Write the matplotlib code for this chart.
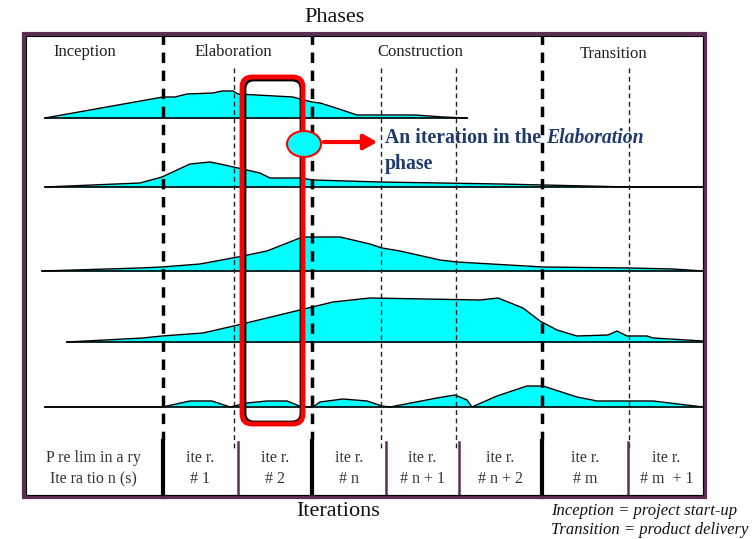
import matplotlib.pyplot as plt
from matplotlib.patches import FancyBboxPatch, Ellipse, Rectangle
import numpy as np

plt.rcParams['font.family'] = ['Liberation Serif', 'DejaVu Serif']

cyan = '#00FFFF'
red = '#FF0000'
frame_purple = '#5E2F55'
note_blue = '#1F3B6E'

# hump profiles, x in pixels across the frame, y = height above each row baseline
hump1_x = [45, 163, 175, 187, 213, 222, 233, 238, 293, 300, 312, 320, 333, 357, 415, 443, 467]
hump1_y = [0, 21, 21, 24, 25, 27, 27, 24, 21, 19, 16, 15, 11, 3, 3, 1, 0]
hump2_x = [45, 140, 162, 190, 210, 220, 238, 260, 270, 300, 313, 380, 500, 630, 705]
hump2_y = [0, 4, 10, 23, 25, 23, 19, 14, 9, 9, 7, 5, 3, 0, 0]
hump3_x = [42, 140, 162, 200, 238, 267, 300, 307, 340, 370, 382, 400, 440, 457, 543, 630, 673, 703]
hump3_y = [0, 3, 4, 7, 14, 20, 33, 34, 34, 27, 23, 20, 11, 9, 4, 3, 2, 0]
hump4_x = [67, 143, 162, 203, 238, 300, 333, 370, 480, 498, 523, 540, 557, 577, 608, 617, 627, 647, 653, 703]
hump4_y = [0, 4, 6, 9, 17, 32, 40, 44, 42, 44, 34, 21, 12, 6, 7, 11, 6, 6, 4, 1]
hump5_x = [45, 162, 167, 190, 212, 230, 247, 267, 287, 302, 313, 320, 343, 367, 382, 390, 437, 455, 467, 472, 497, 527, 543, 577, 597, 653, 703]
hump5_y = [0, 0, 1, 6, 6, 0, 4, 6, 6, 0, 0, 5, 8, 6, 1, 0, 9, 12, 7, 0, 11, 21, 21, 10, 6, 6, 0]
humps = [(hump1_x, hump1_y), (hump2_x, hump2_y), (hump3_x, hump3_y), (hump4_x, hump4_y), (hump5_x, hump5_y)]
baselines = [118, 187, 271, 342, 407]
baseline_ends = [467, 705, 703, 703, 703]

phases = ['Inception', 'Elaboration', 'Construction', 'Transition']
phase_label_x = [85, 233, 420, 614]
phase_label_y = [52, 52, 52, 54]
phase_bounds = [163, 312, 542]
iter_bounds = [234, 381, 456, 629]

iter_top = ['P re lim in a ry', 'ite r.', 'ite r.', 'ite r.', 'ite r.', 'ite r.', 'ite r.', 'ite r.']
iter_bottom = ['Ite ra tio n (s)', '# 1', '# 2', '# n', '# n + 1', '# n + 2', '# m', '# m  + 1']
iter_cells = [24, 163, 238, 312, 386, 459, 542, 628, 705]
iter_major = [163, 312, 542]

fig = plt.figure(figsize=(7.53, 5.39), dpi=100)
ax = fig.add_axes([0, 0, 1, 1])
ax.set_xlim(0, 753)
ax.set_ylim(539, 0)
ax.axis('off')

# outer frame
ax.add_patch(Rectangle((24, 34), 681, 463, fill=False, ec=frame_purple, lw=3, zorder=5))
ax.add_patch(Rectangle((26, 36), 677, 459, fill=False, ec='black', lw=0.8, zorder=5))

# humps
for (hx, hy), base, xend in zip(humps, baselines, baseline_ends):
    hx = np.array(hx)
    top = base - np.array(hy)
    ax.fill_between(hx, top, base, color=cyan, lw=0, zorder=2)
    ax.plot(hx, top, color='black', lw=1, zorder=3)
    ax.plot([hx[0], xend], [base, base], color='black', lw=1.2, zorder=3)

# phase and iteration separators
for x in phase_bounds:
    ax.plot([x, x], [34, 440], color='black', lw=2.5, ls=(0, (3, 2.2)), zorder=4)
for x in iter_bounds:
    ax.plot([x, x], [68, 448], color='#222222', lw=1, ls=(0, (3.5, 2.5)), zorder=4)

for x in iter_cells[1:-1]:
    if x in iter_major:
        ax.plot([x, x], [441, 497], color='black', lw=3, zorder=4)
    else:
        ax.plot([x, x], [442, 497], color=frame_purple, lw=1.8, zorder=4)

for i in range(len(iter_top)):
    cx = (iter_cells[i] + iter_cells[i + 1]) / 2
    ax.text(cx, 458, iter_top[i], ha='center', va='center', fontsize=11.5, color='#333333')
    ax.text(cx, 479, iter_bottom[i], ha='center', va='center', fontsize=11.5, color='#333333')

for name, x, y in zip(phases, phase_label_x, phase_label_y):
    ax.text(x, y, name, ha='center', va='center', fontsize=12, color='#222222')

ax.text(335, 18, 'Phases', ha='center', va='center', fontsize=16, color='#111111')
ax.text(338, 511, 'Iterations', ha='center', va='center', fontsize=16, color='#111111')

# highlighted iteration
ax.add_patch(FancyBboxPatch((245, 80), 56, 342, boxstyle='round,pad=0,rounding_size=9',
                            fill=False, ec='black', lw=2, zorder=6))
ax.add_patch(FancyBboxPatch((242, 77), 61, 347, boxstyle='round,pad=0,rounding_size=10',
                            fill=False, ec=red, lw=3.5, zorder=7))
ax.add_patch(Ellipse((304, 144), 34, 26, fc=cyan, ec=red, lw=1.5, zorder=8))
ax.annotate('', xy=(380, 142), xytext=(321, 142),
            arrowprops=dict(arrowstyle='-|>,head_length=0.8,head_width=0.45', color=red, lw=3),
            zorder=8)

t1 = ax.text(385, 138, 'An iteration in the ', ha='left', va='center',
             fontsize=14.2, fontweight='bold', color=note_blue, zorder=8)
fig.canvas.draw()
bb = t1.get_window_extent(fig.canvas.get_renderer())
x_end = ax.transData.inverted().transform((bb.x1, bb.y0))[0]
ax.text(x_end, 138, 'Elaboration', ha='left', va='center', fontsize=14.2,
        fontweight='bold', style='italic', color=note_blue, zorder=8)
ax.text(385, 164, 'phase', ha='left', va='center', fontsize=14.2, fontweight='bold',
        color=note_blue, zorder=8)

ax.text(551, 511, 'Inception = project start-up', ha='left', va='center', fontsize=12,
        style='italic', color='#111111')
ax.text(551, 530, 'Transition = product delivery', ha='left', va='center', fontsize=12,
        style='italic', color='#111111')

plt.savefig('out.png', dpi=100)
